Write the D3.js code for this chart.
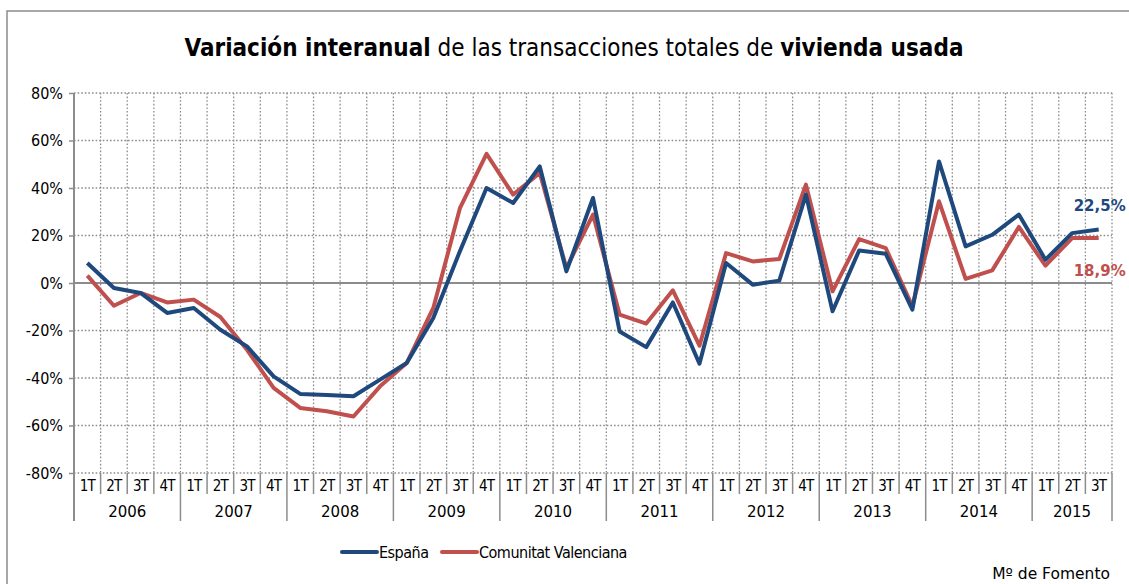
<!DOCTYPE html>
<html>
<head>
<meta charset="utf-8">
<script src="https://cdn.jsdelivr.net/npm/d3@7"></script>
<style>
  body { margin: 0; background: #fff; }
  svg text { font-family: "DejaVu Sans", sans-serif; }
  svg text.cond { font-family: "DejaVu Sans Condensed", "Liberation Sans Narrow", "DejaVu Sans", sans-serif; }
  .grid line { stroke: #8c8c8c; stroke-dasharray: 1.6,2; stroke-width: 1.3; }
</style>
</head>
<body>
<div class="center"></div>
<script>
// data
var years = ["2006", "2007", "2008", "2009", "2010", "2011", "2012", "2013", "2014", "2015"];
var quarters = ["1T", "2T", "3T", "4T"];
var espana = [8.4, -2.1, -4.2, -12.6, -10.5, -19.7, -26.7, -39.3,
              -46.7, -47.2, -47.7, -40.7, -33.7, -14.7, 13.4, 40.0,
              33.7, 49.1, 4.9, 35.8, -20.4, -27.0, -8.2, -34.0,
              8.4, -0.7, 1.0, 37.2, -11.9, 13.7, 12.3, -11.2,
              51.2, 15.4, 20.3, 28.8, 9.8, 21.0, 22.5];
var valenciana = [3.1, -9.6, -4.2, -8.2, -7.0, -14.3, -28.1, -44.2,
                  -52.6, -54.0, -56.2, -43.5, -33.7, -10.5, 31.5, 54.4,
                  37.2, 46.3, 6.3, 28.8, -13.3, -17.1, -3.1, -26.4,
                  12.6, 9.1, 10.1, 41.4, -3.5, 18.5, 14.7, -9.8,
                  34.4, 1.7, 5.3, 23.6, 7.3, 18.9, 18.9];
var yTicks = [-80, -60, -40, -20, 0, 20, 40, 60, 80];

var blue = "#1f497d", red = "#c0504d", axisGrey = "#8c8c8c";

// categories: year x quarter, as many as there are values
var cats = [];
years.forEach(function(yr) {
  quarters.forEach(function(q) { cats.push({year: yr, q: q, key: yr + "-" + q}); });
});
cats = cats.slice(0, espana.length);

var W = 1129, H = 584;
var margin = {top: 93, left: 74, right: 17, bottom: 111};
var width = W - margin.left - margin.right,
    height = H - margin.top - margin.bottom;

var svg = d3.select(".center").append("svg")
    .attr("width", W)
    .attr("height", H);

// outer frame
svg.append("rect")
    .attr("x", 7).attr("y", 11)
    .attr("width", W + 10).attr("height", H + 10)
    .attr("fill", "none").attr("stroke", axisGrey).attr("stroke-width", 1.5);

// title
var title = svg.append("text")
    .attr("class", "cond")
    .attr("x", 574).attr("y", 56)
    .attr("text-anchor", "middle")
    .style("font-size", "24px")
    .attr("fill", "#000");
title.append("tspan").attr("font-weight", "bold").text("Variación interanual");
title.append("tspan").text(" de las transacciones totales de ");
title.append("tspan").attr("font-weight", "bold").text("vivienda usada");

var g = svg.append("g")
    .attr("transform", "translate(" + margin.left + "," + margin.top + ")");

var x = d3.scaleBand().domain(cats.map(function(d) { return d.key; })).range([0, width]);
var y = d3.scaleLinear().domain([-80, 80]).range([height, 0]);

// horizontal dotted grid
g.append("g").attr("class", "grid")
  .selectAll("line")
  .data(yTicks.filter(function(t) { return t !== 0; }))
  .enter().append("line")
    .attr("x1", 0).attr("x2", width)
    .attr("y1", function(d) { return y(d); })
    .attr("y2", function(d) { return y(d); });

// vertical dotted grid at category boundaries
g.append("g").attr("class", "grid")
  .selectAll("line")
  .data(cats)
  .enter().append("line")
    .attr("x1", function(d) { return x(d.key) + x.bandwidth(); })
    .attr("x2", function(d) { return x(d.key) + x.bandwidth(); })
    .attr("y1", 0).attr("y2", height);

// y axis
var yAxis = g.append("g")
    .call(d3.axisLeft(y).tickValues(yTicks).tickSize(5).tickPadding(6)
      .tickFormat(function(d) { return d + "%"; }));
yAxis.attr("font-family", null).attr("font-size", null);
yAxis.select(".domain").remove();
yAxis.selectAll(".tick line").attr("stroke", axisGrey).attr("stroke-width", 1.5);
yAxis.selectAll("text").attr("class", "cond").style("font-size", "16px").attr("fill", "#000");

g.append("line")
    .attr("x1", 0).attr("x2", 0).attr("y1", 0).attr("y2", height + 48)
    .attr("stroke", axisGrey).attr("stroke-width", 2);

// zero line
g.append("line")
    .attr("x1", 0).attr("x2", width).attr("y1", y(0)).attr("y2", y(0))
    .attr("stroke", axisGrey).attr("stroke-width", 2);

// category axis: quarter labels and separators
var catAxis = g.append("g").attr("transform", "translate(0," + height + ")");
catAxis.selectAll(".qsep")
  .data(cats)
  .enter().append("line")
    .attr("x1", function(d) { return x(d.key) + x.bandwidth(); })
    .attr("x2", function(d) { return x(d.key) + x.bandwidth(); })
    .attr("y1", 0)
    .attr("y2", function(d, i) { return (d.q === "4T" || i === cats.length - 1) ? 48 : 21; })
    .attr("stroke", axisGrey).attr("stroke-width", 1.5);

catAxis.selectAll(".qlab")
  .data(cats)
  .enter().append("text")
    .attr("class", "cond")
    .attr("x", function(d) { return x(d.key) + x.bandwidth() / 2; })
    .attr("y", 18)
    .attr("text-anchor", "middle")
    .style("font-size", "15px")
    .style("letter-spacing", "-0.8px")
    .text(function(d) { return d.q; });

catAxis.selectAll(".ylab")
  .data(years)
  .enter().append("text")
    .attr("x", function(yr) {
      var ks = cats.filter(function(c) { return c.year === yr; });
      var x0 = x(ks[0].key), x1 = x(ks[ks.length - 1].key) + x.bandwidth();
      return (x0 + x1) / 2;
    })
    .attr("y", 44)
    .attr("text-anchor", "middle")
    .style("font-size", "15px")
    .text(function(d) { return d; });

// lines
var line = d3.line()
    .x(function(d, i) { return x(cats[i].key) + x.bandwidth() / 2; })
    .y(function(d) { return y(d); });

g.append("path").datum(valenciana)
    .attr("fill", "none").attr("stroke", red).attr("stroke-width", 4)
    .attr("stroke-linejoin", "round")
    .attr("d", line);

g.append("path").datum(espana)
    .attr("fill", "none").attr("stroke", blue).attr("stroke-width", 4)
    .attr("stroke-linejoin", "round")
    .attr("d", line);

// end labels
var lastX = x(cats[cats.length - 1].key) + x.bandwidth() / 2;
g.append("text")
    .attr("x", lastX + 27).attr("y", y(espana[espana.length - 1]) - 19)
    .attr("text-anchor", "end")
    .attr("font-weight", "bold").style("font-size", "15px")
    .attr("fill", blue)
    .text("22,5%");
g.append("text")
    .attr("x", lastX + 27).attr("y", y(valenciana[valenciana.length - 1]) + 38)
    .attr("text-anchor", "end")
    .attr("font-weight", "bold").style("font-size", "15px")
    .attr("fill", red)
    .text("18,9%");

// legend
var legend = svg.append("g").attr("transform", "translate(0,552)");
var items = [{name: "España", color: blue, x: 342}, {name: "Comunitat Valenciana", color: red, x: 442}];
items.forEach(function(it) {
  legend.append("line")
      .attr("x1", it.x).attr("x2", it.x + 35)
      .attr("stroke", it.color).attr("stroke-width", 4).attr("stroke-linecap", "round");
  legend.append("text")
      .attr("class", "cond")
      .attr("x", it.x + 37).attr("y", 6)
      .style("font-size", "16px")
      .style("letter-spacing", "-0.5px")
      .text(it.name);
});

// source
svg.append("text")
    .attr("x", 1110).attr("y", 579)
    .attr("text-anchor", "end")
    .style("font-size", "15.5px")
    .text("Mº de Fomento");
</script>
</body>
</html>
